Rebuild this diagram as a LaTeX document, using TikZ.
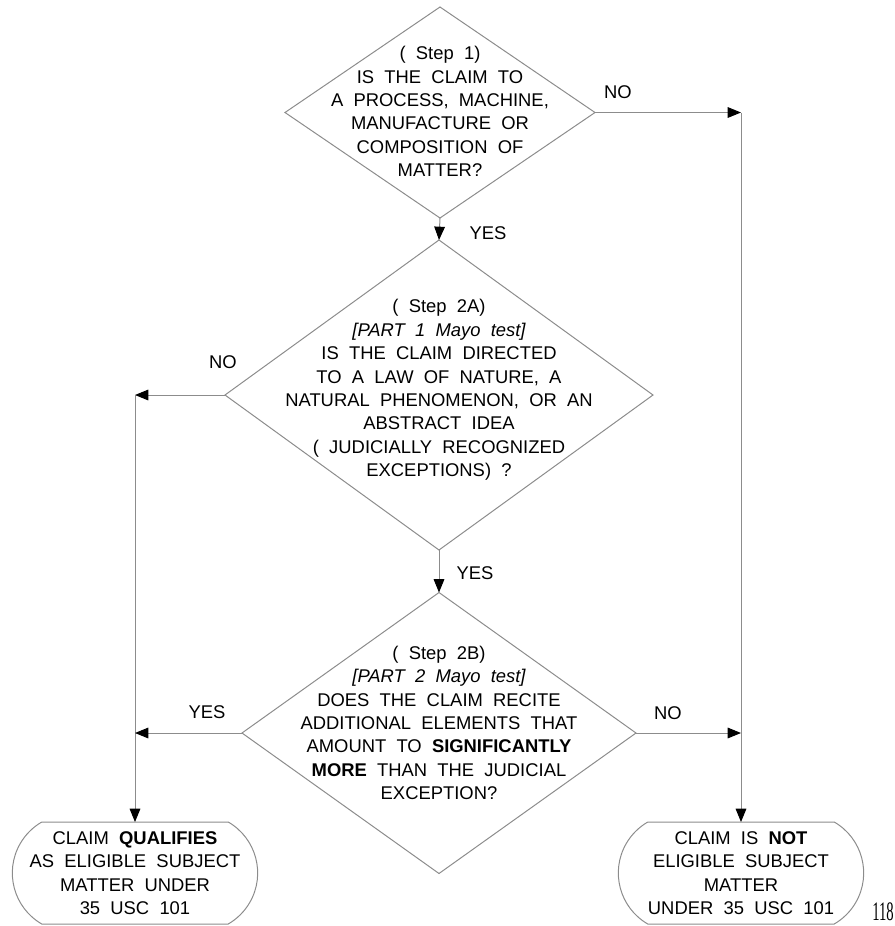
\documentclass[tikz,border=0pt]{standalone}
\usepackage{fontspec}
\setmainfont{Liberation Sans}[WordSpace=2]
\newfontfamily\pagenumfont{Liberation Serif}
\usetikzlibrary{shapes.geometric,shapes.misc,arrows.meta}
\definecolor{linegray}{RGB}{140,140,140}
\tikzset{
  decision/.style={diamond, draw=linegray, line width=0.75pt, inner sep=0pt, outer sep=0pt},
  terminal/.style={rounded rectangle, rounded rectangle arc length=120, draw=linegray, line width=0.75pt,
    minimum width=184pt, minimum height=76.5pt, inner sep=0pt, outer sep=0pt, align=center, font=\flowfont},
  qtext/.style={align=center, inner sep=0pt, font=\flowfont},
  answer/.style={inner sep=0pt, font=\flowfont},
  flow/.style={draw=linegray, line width=0.75pt, -{Triangle[length=10pt,width=8pt,color=black]}}
}
\newcommand{\flowfont}{\fontsize{13.8}{17.55}\selectfont}
\begin{document}
\begin{tikzpicture}[x=0.75pt,y=0.75pt,yscale=-1,xscale=1]
    \useasboundingbox (0,0) rectangle (894,926);
    \node [decision, minimum width=232.5pt, minimum height=158.25pt] (stepone) at (440,112.5) {};
    \node [decision, minimum width=321pt, minimum height=232.5pt] (steptwoa) at (439,395) {};
    \node [decision, minimum width=295.5pt, minimum height=210.75pt] (steptwob) at (439,733) {};
    \node [qtext] (steponetext) at (440,111.5) {( Step 1)\\IS THE CLAIM TO\\A PROCESS, MACHINE,\\MANUFACTURE OR\\COMPOSITION OF\\MATTER?};
    \node [qtext] (steptwoatext) at (439,390) {( Step 2A)\\{\itshape [PART 1 Mayo test]}\\IS THE CLAIM DIRECTED\\TO A LAW OF NATURE, A\\NATURAL PHENOMENON, OR AN\\ABSTRACT IDEA\\( JUDICIALLY RECOGNIZED\\EXCEPTIONS) ?};
    \node [qtext] (steptwobtext) at (439,723) {( Step 2B)\\{\itshape [PART 2 Mayo test]}\\DOES THE CLAIM RECITE\\ADDITIONAL ELEMENTS THAT\\AMOUNT TO \textbf{SIGNIFICANTLY}\\\textbf{MORE} THAN THE JUDICIAL\\EXCEPTION?};
    \node [terminal] (eligible) at (135,873) {CLAIM \textbf{QUALIFIES}\\AS ELIGIBLE SUBJECT\\MATTER UNDER\\35 USC 101};
    \node [terminal] (noteligible) at (741,873) {CLAIM IS \textbf{NOT}\\ELIGIBLE SUBJECT\\MATTER\\UNDER 35 USC 101};
    \draw [flow] (stepone.south) -- (steptwoa.north);
    \draw [flow] (steptwoa.south) -- (steptwob.north);
    \draw [flow] (steptwoa.west) -- (steptwoa.west -| eligible.north);
    \draw [flow] (steptwoa.west -| eligible.north) -- (eligible.north);
    \draw [flow] (steptwob.west) -- (steptwob.west -| eligible.north);
    \draw [flow] (stepone.east) -- (stepone.east -| noteligible.north);
    \draw [flow] (stepone.east -| noteligible.north) -- (noteligible.north);
    \draw [flow] (steptwob.east) -- (steptwob.east -| noteligible.north);
    \node [answer] (onenolabel) at (618,92) {NO};
    \node [answer] (oneyeslabel) at (488,233) {YES};
    \node [answer] (twoanolabel) at (223,362) {NO};
    \node [answer] (twoayeslabel) at (475,573) {YES};
    \node [answer] (twobyeslabel) at (207,712) {YES};
    \node [answer] (twobnolabel) at (668,713) {NO};
    \node [inner sep=0pt, xscale=0.55, font=\pagenumfont\fontsize{20}{20}\selectfont] (pagenum) at (883,912) {118};
\end{tikzpicture}
\end{document}
